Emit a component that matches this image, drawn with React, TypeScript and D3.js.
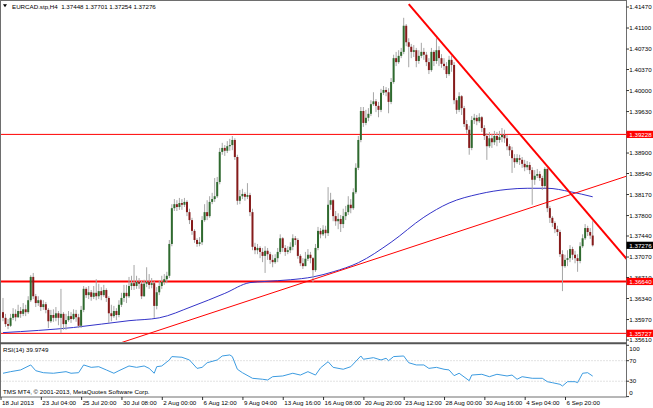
import React from 'react';
import * as d3 from 'd3';

const W = 653;
const H = 408;

// ---- data (EURCAD H4) ----
const symbolTitle = 'EURCAD.stp,H4';
const lastOHLC = [1.37448, 1.37701, 1.37254, 1.37276];
const firstOpen = 1.3610;

const closes = [
  1.3600, 1.3589, 1.3586, 1.3600, 1.3607, 1.3601, 1.3612, 1.3607, 1.3615, 1.3610,
  1.3631, 1.3672, 1.3638, 1.3626, 1.3631, 1.3619, 1.3624, 1.3614, 1.3594, 1.3605,
  1.3600, 1.3608, 1.3600, 1.3607, 1.3589, 1.3596, 1.3603, 1.3598, 1.3607, 1.3601,
  1.3586, 1.3614, 1.3651, 1.3640, 1.3645, 1.3637, 1.3644, 1.3638, 1.3647, 1.3640,
  1.3649, 1.3635, 1.3608, 1.3603, 1.3612, 1.3605, 1.3623, 1.3635, 1.3644, 1.3638,
  1.3656, 1.3661, 1.3656, 1.3663, 1.3660, 1.3638, 1.3660, 1.3663, 1.3658, 1.3661,
  1.3621, 1.3645, 1.3656, 1.3663, 1.3668, 1.3674, 1.3730, 1.3793, 1.3800, 1.3795,
  1.3802, 1.3799, 1.3804, 1.3786, 1.3772, 1.3753, 1.3737, 1.3730, 1.3733, 1.3772,
  1.3786, 1.3779, 1.3804, 1.3809, 1.3814, 1.3839, 1.3892, 1.3899, 1.3894, 1.3902,
  1.3904, 1.3913, 1.3883, 1.3806, 1.3814, 1.3818, 1.3813, 1.3816, 1.3786, 1.3725,
  1.3719, 1.3723, 1.3716, 1.3709, 1.3718, 1.3712, 1.3702, 1.3698, 1.3705, 1.3716,
  1.3740, 1.3723, 1.3716, 1.3719, 1.3725, 1.3740, 1.3737, 1.3709, 1.3696, 1.3691,
  1.3704, 1.3711, 1.3705, 1.3684, 1.3723, 1.3753, 1.3747, 1.3755, 1.3749, 1.3799,
  1.3807, 1.3779, 1.3770, 1.3774, 1.3765, 1.3779, 1.3786, 1.3799, 1.3793, 1.3821,
  1.3864, 1.3913, 1.3964, 1.3943, 1.3952, 1.3959, 1.3976, 1.3981, 1.3973, 1.3966,
  1.3996, 1.4001, 1.3997, 1.3980, 1.4015, 1.4057, 1.4050, 1.4061, 1.4068, 1.4114,
  1.4085, 1.4077, 1.4068, 1.4071, 1.4052, 1.4061, 1.4068, 1.4063, 1.4050, 1.4036,
  1.4068, 1.4052, 1.4071, 1.4057, 1.4047, 1.4043, 1.4029, 1.4054, 1.4045, 1.3983,
  1.3966, 1.3990, 1.3969, 1.3941, 1.3931, 1.3899, 1.3948, 1.3952, 1.3946, 1.3953,
  1.3934, 1.3920, 1.3902, 1.3916, 1.3909, 1.3920, 1.3913, 1.3918, 1.3922, 1.3916,
  1.3902, 1.3895, 1.3881, 1.3874, 1.3881, 1.3878, 1.3871, 1.3865, 1.3869, 1.3860,
  1.3843, 1.3850, 1.3853, 1.3846, 1.3832, 1.3862, 1.3793, 1.3776, 1.3767, 1.3756,
  1.3751, 1.3712, 1.3691, 1.3702, 1.3705, 1.3721, 1.3711, 1.3705, 1.3700, 1.3726,
  1.3740, 1.3758, 1.3751, 1.37448, 1.37276,
];

const highs = [
  1.3635, 1.3607, 1.3598, 1.3607, 1.3617, 1.3615, 1.3623, 1.3619, 1.3626, 1.3623,
  1.3638, 1.3675, 1.3679, 1.3642, 1.3638, 1.3633, 1.3631, 1.3628, 1.3617, 1.3614,
  1.3615, 1.3619, 1.3612, 1.3651, 1.3610, 1.3607, 1.3612, 1.3610, 1.3615, 1.3614,
  1.3607, 1.3621, 1.3656, 1.3654, 1.3656, 1.3649, 1.3656, 1.3668, 1.3660, 1.3654,
  1.3658, 1.3652, 1.3638, 1.3623, 1.3621, 1.3617, 1.3631, 1.3644, 1.3658, 1.3658,
  1.3672, 1.3674, 1.3693, 1.3674, 1.3670, 1.3665, 1.3667, 1.3689, 1.3677, 1.3670,
  1.3665, 1.3654, 1.3665, 1.3674, 1.3677, 1.3681, 1.3737, 1.3800, 1.3809, 1.3807,
  1.3811, 1.3809, 1.3811, 1.3807, 1.3792, 1.3776, 1.3756, 1.3740, 1.3742, 1.3779,
  1.3800, 1.3807, 1.3814, 1.3820, 1.3846, 1.3848, 1.3899, 1.3908, 1.3904, 1.3911,
  1.3915, 1.3920, 1.3916, 1.3887, 1.3825, 1.3827, 1.3821, 1.3837, 1.3820, 1.3792,
  1.3732, 1.3730, 1.3726, 1.3723, 1.3726, 1.3723, 1.3716, 1.3711, 1.3712, 1.3723,
  1.3747, 1.3742, 1.3728, 1.3726, 1.3733, 1.3747, 1.3744, 1.3740, 1.3712, 1.3705,
  1.3716, 1.3721, 1.3716, 1.3707, 1.3730, 1.3760, 1.3758, 1.3763, 1.3762, 1.3830,
  1.3820, 1.3809, 1.3788, 1.3784, 1.3781, 1.3792, 1.3797, 1.3814, 1.3809, 1.3828,
  1.3872, 1.3920, 1.3971, 1.3971, 1.3966, 1.3969, 1.3983, 1.3997, 1.3985, 1.3980,
  1.4003, 1.4008, 1.4006, 1.4004, 1.4022, 1.4063, 1.4068, 1.4071, 1.4075, 1.4128,
  1.4117, 1.4092, 1.4082, 1.4080, 1.4075, 1.4071, 1.4084, 1.4075, 1.4068, 1.4057,
  1.4075, 1.4071, 1.4092, 1.4078, 1.4064, 1.4057, 1.4050, 1.4061, 1.4061, 1.4050,
  1.3987, 1.3997, 1.3992, 1.3973, 1.3948, 1.3938, 1.3955, 1.3959, 1.3957, 1.3960,
  1.3955, 1.3939, 1.3925, 1.3927, 1.3924, 1.3929, 1.3927, 1.3929, 1.3934, 1.3931,
  1.3922, 1.3906, 1.3901, 1.3888, 1.3888, 1.3887, 1.3883, 1.3878, 1.3876, 1.3874,
  1.3865, 1.3860, 1.3862, 1.3858, 1.3850, 1.3865, 1.3864, 1.3797, 1.3779, 1.3770,
  1.3762, 1.3755, 1.3719, 1.3711, 1.3719, 1.3728, 1.3725, 1.3718, 1.3712, 1.3733,
  1.3747, 1.3765, 1.3762, 1.3758, 1.37701,
];

const lows = [
  1.3594, 1.3584, 1.3580, 1.3584, 1.3596, 1.3594, 1.3600, 1.3600, 1.3603, 1.3603,
  1.3607, 1.3628, 1.3633, 1.3619, 1.3621, 1.3612, 1.3614, 1.3608, 1.3582, 1.3591,
  1.3593, 1.3594, 1.3587, 1.3573, 1.3579, 1.3579, 1.3593, 1.3591, 1.3596, 1.3593,
  1.3582, 1.3582, 1.3610, 1.3635, 1.3633, 1.3630, 1.3633, 1.3631, 1.3633, 1.3631,
  1.3637, 1.3628, 1.3591, 1.3594, 1.3600, 1.3596, 1.3601, 1.3619, 1.3628, 1.3626,
  1.3635, 1.3649, 1.3649, 1.3651, 1.3651, 1.3633, 1.3637, 1.3654, 1.3651, 1.3652,
  1.3600, 1.3615, 1.3640, 1.3651, 1.3658, 1.3661, 1.3670, 1.3726, 1.3788, 1.3788,
  1.3790, 1.3790, 1.3795, 1.3779, 1.3765, 1.3746, 1.3732, 1.3725, 1.3726, 1.3728,
  1.3769, 1.3772, 1.3776, 1.3800, 1.3804, 1.3811, 1.3835, 1.3887, 1.3885, 1.3890,
  1.3894, 1.3895, 1.3878, 1.3799, 1.3800, 1.3809, 1.3806, 1.3809, 1.3779, 1.3719,
  1.3712, 1.3712, 1.3705, 1.3698, 1.3679, 1.3702, 1.3695, 1.3689, 1.3695, 1.3698,
  1.3712, 1.3716, 1.3709, 1.3712, 1.3714, 1.3719, 1.3728, 1.3704, 1.3691, 1.3686,
  1.3691, 1.3700, 1.3696, 1.3663, 1.3681, 1.3719, 1.3740, 1.3744, 1.3740, 1.3744,
  1.3790, 1.3770, 1.3762, 1.3756, 1.3751, 1.3758, 1.3772, 1.3781, 1.3784, 1.3790,
  1.3818, 1.3860, 1.3909, 1.3936, 1.3939, 1.3946, 1.3955, 1.3973, 1.3962, 1.3953,
  1.3962, 1.3992, 1.3990, 1.3960, 1.3976, 1.4012, 1.4043, 1.4047, 1.4057, 1.4064,
  1.4078, 1.4041, 1.4057, 1.4059, 1.4041, 1.4047, 1.4057, 1.4054, 1.4043, 1.4029,
  1.4033, 1.4043, 1.4047, 1.4043, 1.4040, 1.4036, 1.4022, 1.4026, 1.4033, 1.3976,
  1.3959, 1.3962, 1.3957, 1.3936, 1.3924, 1.3887, 1.3895, 1.3941, 1.3939, 1.3943,
  1.3927, 1.3913, 1.3878, 1.3899, 1.3899, 1.3904, 1.3902, 1.3908, 1.3909, 1.3908,
  1.3895, 1.3885, 1.3855, 1.3864, 1.3871, 1.3869, 1.3864, 1.3858, 1.3860, 1.3853,
  1.3799, 1.3834, 1.3846, 1.3841, 1.3825, 1.3828, 1.3786, 1.3767, 1.3760, 1.3749,
  1.3744, 1.3707, 1.3647, 1.3688, 1.3691, 1.3698, 1.3702, 1.3696, 1.3681, 1.3696,
  1.3723, 1.3737, 1.3744, 1.3739, 1.37254,
];

// moving average (blue), read at sampled bars
const maBars = [0, 28, 50, 62, 75, 88, 98, 104, 114, 123, 131, 141, 154, 167, 177, 189, 200, 208, 216, 225, 234];
const maValues = [1.3574, 1.3583, 1.3595, 1.3600, 1.3620, 1.3643, 1.3662, 1.3664, 1.3667, 1.3672, 1.3681, 1.3697, 1.3733, 1.3777, 1.3802, 1.3818, 1.3826, 1.3828, 1.3828, 1.3822, 1.3813];

// RSI(14), read at sampled bars
const rsiBars = [0, 3, 7, 11, 13, 16, 20, 25, 27, 30, 32, 35, 38, 41, 44, 46, 50, 53, 56, 58, 60, 61, 63, 66, 67, 71, 74, 77, 79, 81, 85, 87, 90, 91, 93, 95, 99, 103, 105, 107, 111, 115, 118, 121, 124, 126, 129, 131, 135, 138, 142, 143, 147, 150, 152, 153, 155, 159, 161, 164, 167, 169, 172, 175, 177, 179, 181, 185, 186, 190, 193, 196, 200, 202, 204, 206, 210, 214, 216, 218, 221, 222, 224, 227, 228, 230, 232, 234];
const rsiValues = [45.5, 48.6, 52, 61.7, 50.5, 46.6, 45.5, 48.6, 45.5, 46.6, 61.7, 57, 58.3, 52, 45.5, 50.5, 59.7, 57, 59.7, 55, 45.5, 58.3, 59.7, 71.4, 78, 76.7, 71.4, 55, 57, 66, 71.4, 79.2, 81.2, 78, 53.3, 46.6, 35.7, 33.8, 32.4, 38.8, 40.2, 45.5, 42, 48.6, 42, 56, 68, 57, 53.3, 58.3, 79.2, 72.8, 75.9, 71.4, 74.7, 70, 78, 79.2, 66, 61.7, 61.7, 55, 57, 53.3, 52, 40.8, 45.5, 31, 42, 43.5, 38.8, 43.5, 40.2, 42, 33.8, 38.8, 35.7, 35.7, 29.1, 27.1, 24, 20.7, 29.1, 29.1, 27.1, 45.5, 46.6, 39.97];
const rsiLast = '39.9749';
const rsiLevels = [70, 30];
const rsiTicks = [100, 70, 30, 0];

// horizontal levels & trend lines
const hLevels = [1.39228, 1.36640, 1.35727];
const downTrendBars = [161, 215];
const downTrendPrices = [1.4152, 1.3872];
const upTrendBars = [46, 200];
const upTrendPrices = [1.3555, 1.3780];

// axes
const priceTicks = [1.4147, 1.411, 1.4073, 1.4037, 1.4, 1.3963, 1.3926, 1.389, 1.3854, 1.3817, 1.378, 1.3744, 1.3707, 1.3671, 1.3634, 1.3597, 1.3561];
const timeLabelBars = [0, 16, 32, 48, 64, 80, 96, 112, 128, 144, 160, 176, 192, 208, 224];
const timeLabels = ['18 Jul 2013', '23 Jul 04:00', '25 Jul 20:00', '30 Jul 08:00', '2 Aug 00:00', '6 Aug 12:00', '9 Aug 04:00', '13 Aug 16:00', '16 Aug 08:00', '20 Aug 20:00', '23 Aug 12:00', '28 Aug 00:00', '30 Aug 16:00', '4 Sep 04:00', '6 Sep 20:00'];

const FONT = "'Liberation Sans', Arial, sans-serif";
const FS = 6.2;

export default function App() {
  const plotL = 0.5;
  const plotR = 626.5;
  const mainTop = 0.5;
  const mainBot = 342;
  const rsiTop = 344.5;
  const rsiBot = 397;

  const x = d3.scaleLinear().domain([0, closes.length - 1]).range([3, 592.7]);
  const y = d3.scaleLinear().domain([1.3561, 1.4147]).range([340, 7]);
  const ry = d3.scaleLinear().domain([0, 100]).range([396.6, 345.3]);

  const candles = closes.map((c, i) => {
    const o = i === 0 ? firstOpen : closes[i - 1];
    const h = Math.max(highs[i], o, c);
    const l = Math.min(lows[i], o, c);
    return { i, o, h, l, c };
  });

  const maPath = d3
    .line<number>()
    .x((_, k) => x(maBars[k]))
    .y((v) => y(v))
    .curve(d3.curveMonotoneX)(maValues) || '';

  const rsiPath = d3
    .line<number>()
    .x((_, k) => x(rsiBars[k]))
    .y((v) => ry(v))(rsiValues) || '';

  const ray = (bars: number[], prices: number[]) => {
    const slope = (prices[1] - prices[0]) / (bars[1] - bars[0]);
    const endBar = 270;
    return {
      x1: x(bars[0]),
      y1: y(prices[0]),
      x2: x(endBar),
      y2: y(prices[0] + slope * (endBar - bars[0])),
    };
  };
  const down = ray(downTrendBars, downTrendPrices);
  const upStartBar = 20;
  const upSlope = (upTrendPrices[1] - upTrendPrices[0]) / (upTrendBars[1] - upTrendBars[0]);
  const up = {
    x1: x(upStartBar),
    y1: y(upTrendPrices[0] + upSlope * (upStartBar - upTrendBars[0])),
    x2: x(270),
    y2: y(upTrendPrices[0] + upSlope * (270 - upTrendBars[0])),
  };

  const frame = '#6e6e6e';
  const bull = '#2f6a2f';
  const bear = '#861b1b';
  const wick = '#a6a6a6';

  const boxLabel = (price: number, fill: string, key: string) => (
    <g key={key}>
      <rect x={626.5} y={y(price) - 3.6} width={27} height={7.2} fill={fill} />
      <text x={629.3} y={y(price)} dy="0.36em" fill="#ffffff" fontSize={FS} fontFamily={FONT}>
        {price.toFixed(5)}
      </text>
    </g>
  );

  return (
    <svg
      width={W}
      height={H}
      viewBox={`0 0 ${W} ${H}`}
      style={{ position: 'absolute', left: 0, top: 0, background: '#ffffff' }}
    >
      <defs>
        <clipPath id="mainClip">
          <rect x={plotL} y={mainTop} width={plotR - plotL} height={mainBot - mainTop} />
        </clipPath>
        <clipPath id="rsiClip">
          <rect x={plotL} y={rsiTop} width={plotR - plotL} height={rsiBot - rsiTop} />
        </clipPath>
      </defs>
      <rect x={0} y={0} width={W} height={H} fill="#ffffff" />

      {/* main panel */}
      <g clipPath="url(#mainClip)">
        {/* horizontal levels */}
        <line x1={plotL} x2={plotR} y1={y(hLevels[0])} y2={y(hLevels[0])} stroke="#ff0000" strokeWidth={1} />
        <line x1={plotL} x2={plotR} y1={y(hLevels[1])} y2={y(hLevels[1])} stroke="#ff0000" strokeWidth={2} />
        <line x1={plotL} x2={plotR} y1={y(hLevels[2])} y2={y(hLevels[2])} stroke="#ff0000" strokeWidth={1} />

        {/* moving average */}
        <path d={maPath} fill="none" stroke="#3434c8" strokeWidth={1} />

        {/* candles */}
        {candles.map((d) => {
          const cx = x(d.i);
          const top = y(Math.max(d.o, d.c));
          const bot = y(Math.min(d.o, d.c));
          return (
            <g key={d.i}>
              <line x1={cx} x2={cx} y1={y(d.h)} y2={y(d.l)} stroke={wick} strokeWidth={1} />
              <rect
                x={cx - 1}
                y={top}
                width={2}
                height={Math.max(0.8, bot - top)}
                fill={d.c >= d.o ? bull : bear}
              />
            </g>
          );
        })}

        {/* trend lines */}
        <line {...up} stroke="#ff0000" strokeWidth={1} />
        <line {...down} stroke="#ff0000" strokeWidth={2} />
      </g>

      {/* header */}
      <path d="M3,4.2 L7,4.2 L5,7.2 Z" fill="#000000" />
      <text x={12} y={8.6} fontSize={FS} fontFamily={FONT} fill="#000000" style={{ whiteSpace: 'pre' }}>
        {`${symbolTitle}  ${lastOHLC.map((v) => v.toFixed(5)).join(' ')}`}
      </text>

      {/* RSI panel */}
      <g clipPath="url(#rsiClip)">
        {rsiLevels.map((lv) => (
          <line
            key={lv}
            x1={plotL}
            x2={plotR}
            y1={ry(lv)}
            y2={ry(lv)}
            stroke="#c4c4c4"
            strokeWidth={1}
            strokeDasharray="1,2"
          />
        ))}
        <path d={rsiPath} fill="none" stroke="#3c9be0" strokeWidth={1} />
      </g>
      <text x={3} y={351.5} fontSize={FS} fontFamily={FONT} fill="#000000">
        {`RSI(14) ${rsiLast}`}
      </text>
      <text x={3} y={394} fontSize={FS} fontFamily={FONT} fill="#000000">
        TMS MT4, © 2001-2013, MetaQuotes Software Corp.
      </text>

      {/* frame */}
      <line x1={0.5} x2={0.5} y1={0} y2={rsiBot} stroke={frame} strokeWidth={1} />
      <line x1={0} x2={plotR} y1={0.5} y2={0.5} stroke={frame} strokeWidth={1} />
      <line x1={plotR} x2={plotR} y1={0} y2={rsiBot} stroke={frame} strokeWidth={1} />
      <line x1={0} x2={plotR} y1={343.3} y2={343.3} stroke="#555555" strokeWidth={2} />
      <line x1={0} x2={plotR} y1={rsiBot} y2={rsiBot} stroke={frame} strokeWidth={1} />

      {/* price axis */}
      {priceTicks.map((p) => (
        <g key={p}>
          <line x1={plotR} x2={plotR + 2.5} y1={y(p)} y2={y(p)} stroke="#000000" strokeWidth={0.8} />
          <text x={629.3} y={y(p)} dy="0.36em" fontSize={FS} fontFamily={FONT} fill="#000000">
            {p.toFixed(5)}
          </text>
        </g>
      ))}
      {boxLabel(hLevels[0], '#ff0000', 'h0')}
      {boxLabel(hLevels[1], '#ff0000', 'h1')}
      {boxLabel(hLevels[2], '#ff0000', 'h2')}
      {boxLabel(lastOHLC[3], '#000000', 'last')}

      {/* RSI axis */}
      {rsiTicks.map((t) => {
        const ty = Math.min(392.3, Math.max(349, ry(t)));
        return (
          <g key={t}>
            <line x1={plotR} x2={plotR + 2.5} y1={ry(t)} y2={ry(t)} stroke="#000000" strokeWidth={0.8} />
            <text x={629.3} y={ty} dy="0.36em" fontSize={FS} fontFamily={FONT} fill="#000000">
              {t}
            </text>
          </g>
        );
      })}

      {/* time axis */}
      {timeLabelBars.map((b, k) => (
        <g key={b}>
          <line x1={x(b) - 2} x2={x(b) - 2} y1={rsiBot} y2={rsiBot + 3} stroke="#000000" strokeWidth={0.8} />
          <text x={x(b) - 1} y={404.8} fontSize={FS} fontFamily={FONT} fill="#000000">
            {timeLabels[k]}
          </text>
        </g>
      ))}
    </svg>
  );
}
